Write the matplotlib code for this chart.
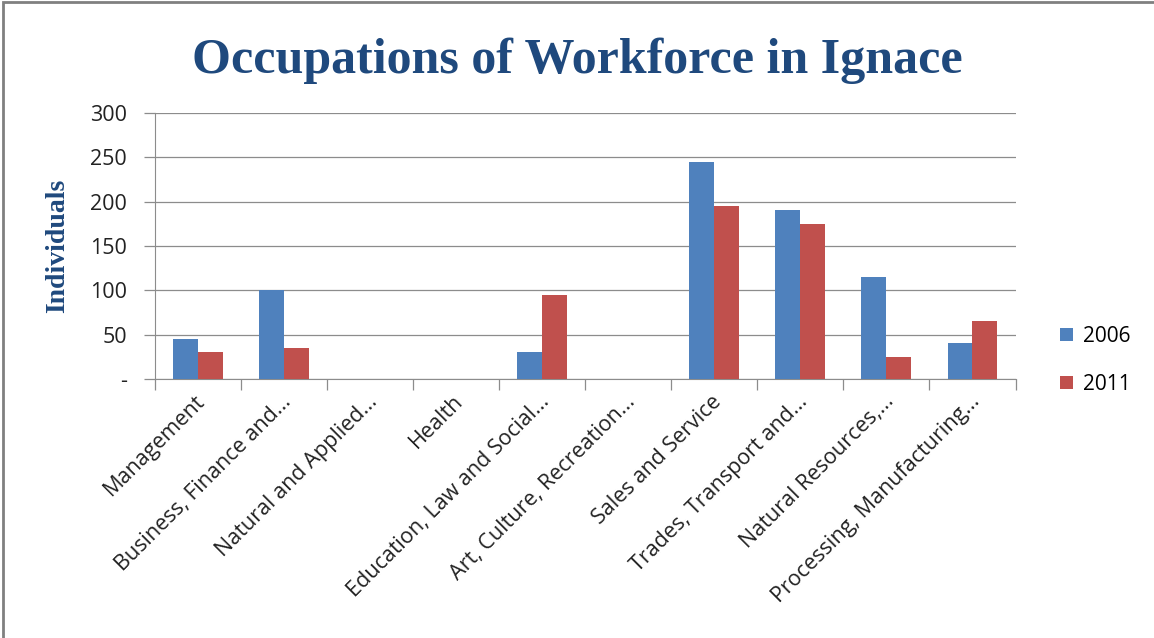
import matplotlib.pyplot as plt
import numpy as np

# data
categories = ['Management', 'Business, Finance and...', 'Natural and Applied...', 'Health',
              'Education, Law and Social...', 'Art, Culture, Recreation...', 'Sales and Service',
              'Trades, Transport and...', 'Natural Resources,...', 'Processing, Manufacturing...']
values_2006 = [45, 100, 0, 0, 30, 0, 245, 190, 115, 40]
values_2011 = [30, 35, 0, 0, 95, 0, 195, 175, 25, 65]
y_ticks = [0, 50, 100, 150, 200, 250, 300]
y_tick_labels = ['-', '50', '100', '150', '200', '250', '300']

blue = '#4F81BD'
red = '#C0504D'
title_color = '#1F497D'

fig = plt.figure(figsize=(11.54, 6.38), dpi=100)
ax = fig.add_axes([0.134, 0.406, 0.746, 0.417])

x = np.arange(len(categories))
w = 0.29
ax.bar(x - w / 2, values_2006, w, color=blue, label='2006', zorder=3)
ax.bar(x + w / 2, values_2011, w, color=red, label='2011', zorder=3)

ax.set_xlim(-0.5, len(categories) - 0.5)
ax.set_ylim(0, 300)
ax.set_yticks(y_ticks)
ax.set_yticklabels(y_tick_labels, fontsize=15.5, family='Open Sans', color='#222222')
ax.yaxis.grid(True, color='#8C8C8C', linewidth=0.9, zorder=0)
ax.tick_params(axis='y', length=8, width=0.9, color='#8C8C8C', pad=12)

# category boundary ticks on x axis
ax.set_xticks(np.arange(len(categories) + 1) - 0.5, minor=False)
ax.set_xticklabels([])
ax.tick_params(axis='x', length=8, width=0.9, color='#8C8C8C')
for i, lab in enumerate(categories):
    ax.text(i + 0.05, -22, lab, rotation=45, ha='right', va='center', rotation_mode='anchor',
            fontsize=15.5, family='Open Sans', color='#222222', transform=ax.transData)

for s in ['top', 'right']:
    ax.spines[s].set_visible(False)
ax.spines['left'].set_color('#8C8C8C')
ax.spines['bottom'].set_color('#8C8C8C')

ax.set_ylabel('Individuals', fontsize=20, fontweight='bold', family='Liberation Serif',
              color=title_color, labelpad=14)

fig.text(0.5, 0.905, 'Occupations of Workforce in Ignace', ha='center', va='center',
         fontsize=36, fontweight='bold', family='Liberation Serif', color=title_color)

ax.legend(loc='center left', bbox_to_anchor=(1.03, 0.07), frameon=False,
          handlelength=0.6, handleheight=0.6, labelspacing=1.3, handletextpad=0.5,
          prop={'family': 'Open Sans', 'size': 15})

# chart border
border = plt.Rectangle((0.003, -0.05), 1.2, 1.047, transform=fig.transFigure, fill=False,
                       edgecolor='#808080', linewidth=2)
fig.patches.append(border)

plt.savefig('out.png', dpi=100)
